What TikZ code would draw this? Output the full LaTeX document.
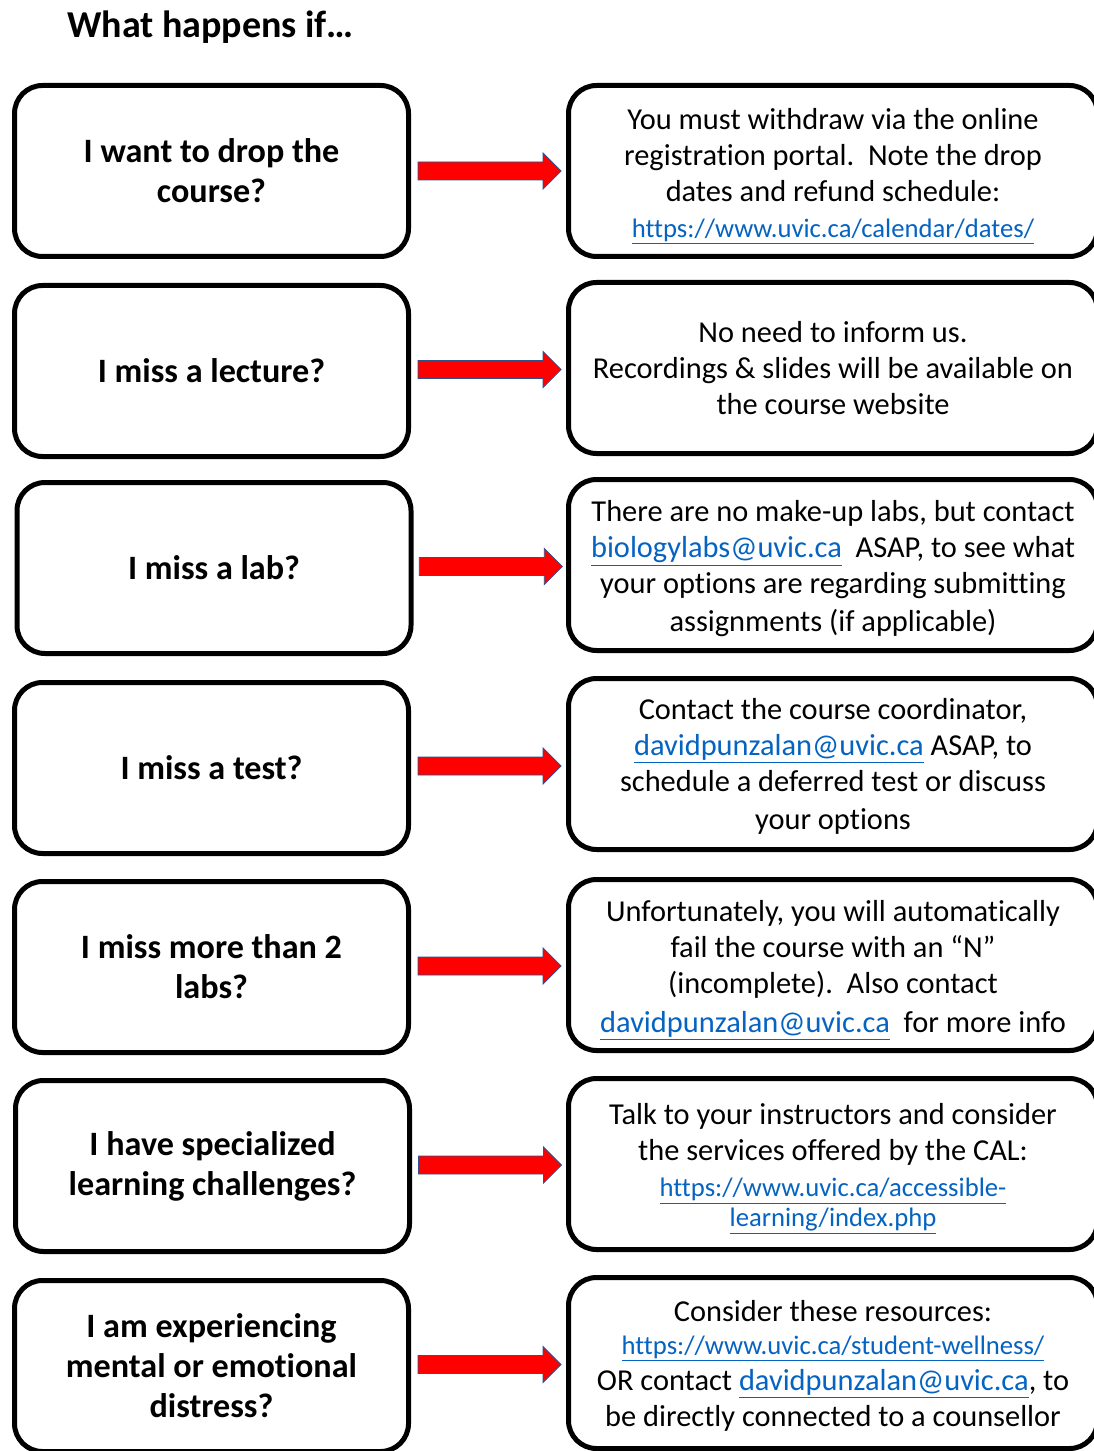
\documentclass[tikz,border=0pt]{standalone}
\usepackage{fontspec}
\setmainfont{Carlito}[Ligatures=NoCommon]
\usetikzlibrary{calc}
\definecolor{linkblue}{HTML}{0563C1}
\definecolor{arrowedge}{HTML}{2F528F}
\newcommand{\lnk}[1]{\textcolor{linkblue}{\underline{#1}}}
\newcommand{\smallurl}[1]{{\fontsize{20}{22}\selectfont\lnk{#1}}}
\begin{document}
\begin{tikzpicture}[x=0.75pt,y=-0.75pt,
  qbox/.style={draw=black, line width=3.75pt, rounded corners=21pt,
    minimum width=295.5pt, minimum height=128.25pt, align=center, inner sep=0pt,
    font=\bfseries\fontsize{25.6}{30}\selectfont},
  abox/.style={draw=black, line width=3.75pt, rounded corners=21pt,
    minimum width=396.75pt, minimum height=128.25pt, inner sep=0pt},
  atext/.style={align=center, inner sep=0pt, font=\fontsize{22.8}{27}\selectfont},
  blockarrow/.style={draw=arrowedge, fill=red, line width=0.7pt, line join=miter},
  titletext/.style={anchor=base west, inner sep=0pt, font=\bfseries\fontsize{28.5}{32}\selectfont}]
\useasboundingbox (0,0) rectangle (1094,1451);
\clip (0,0) rectangle (1094,1451);
\fill[white] (0,0) rectangle (1094,1451);

\node[titletext] (title) at (67,37.5) {What happens if…};

\node[qbox] (L1) at (211.5,171) {I want to drop the\\course?};
\node[qbox] (L2) at (211.5,371) {I miss a lecture?};
\node[qbox] (L3) at (214,568) {I miss a lab?};
\node[qbox] (L4) at (211.5,768) {I miss a test?};
\node[qbox] (L5) at (211.5,967) {I miss more than 2\\labs?};
\node[qbox] (L6) at (212.5,1166) {I have specialized\\learning challenges?};
\node[qbox] (L7) at (211.5,1366) {I am experiencing\\mental or emotional\\distress?};

\node[abox] (R1) at (833,171) {};
\node[abox] (R2) at (833,368) {};
\node[abox] (R3) at (833,565) {};
\node[abox] (R4) at (833,764) {};
\node[abox] (R5) at (833,965) {};
\node[abox] (R6) at (833,1164) {};
\node[abox] (R7) at (833,1363) {};

\node[atext] (T1) at ($(R1.center)+(0,5)$) {You must withdraw via the online\\registration portal.\ \ Note the drop\\dates and refund schedule:\\\smallurl{https://www.uvic.ca/calendar/dates/}};
\node[atext] (T2) at (R2.center) {No need to inform us.\\Recordings \& slides will be available on\\the course website};
\node[atext] (T3) at ($(R3.center)+(0,4)$) {There are no make-up labs, but contact\\\lnk{biologylabs@uvic.ca}\ \ ASAP, to see what\\your options are regarding submitting\\[1.5pt]assignments (if applicable)};
\node[atext] (T4) at ($(R4.center)+(0,2)$) {Contact the course coordinator,\\\lnk{davidpunzalan@uvic.ca} ASAP, to\\schedule a deferred test or discuss\\[1.5pt]your options};
\node[atext] (T5) at ($(R5.center)+(0,5.5)$) {Unfortunately, you will automatically\\fail the course with an “N”\\(incomplete).\ \ Also contact\\[2.25pt]\lnk{davidpunzalan@uvic.ca}\ \ for more info};
\node[atext] (T6) at ($(R6.center)+(0,5)$) {Talk to your instructors and consider\\the services offered by the CAL:\\\smallurl{https://www.uvic.ca/accessible-}\\[-4.5pt]\smallurl{learning/index.php}};
\node[atext] (T7) at ($(R7.center)+(0,3)$) {Consider these resources:\\[-2.5pt]\smallurl{https://www.uvic.ca/student-wellness/}\\OR contact \lnk{davidpunzalan@uvic.ca}, to\\be directly connected to a counsellor};

\foreach \i in {1,...,7}{
  \coordinate (m\i) at ($(L\i.east)!0.5!(R\i.west)$);
  \draw[blockarrow] ([shift={(-70.5,-9)}]m\i) -- ++(125,0) -- ++(0,-9) -- ++(18,18)
    -- ++(-18,18) -- ++(0,-9) -- ++(-125,0) -- cycle;
}
\end{tikzpicture}
\end{document}
